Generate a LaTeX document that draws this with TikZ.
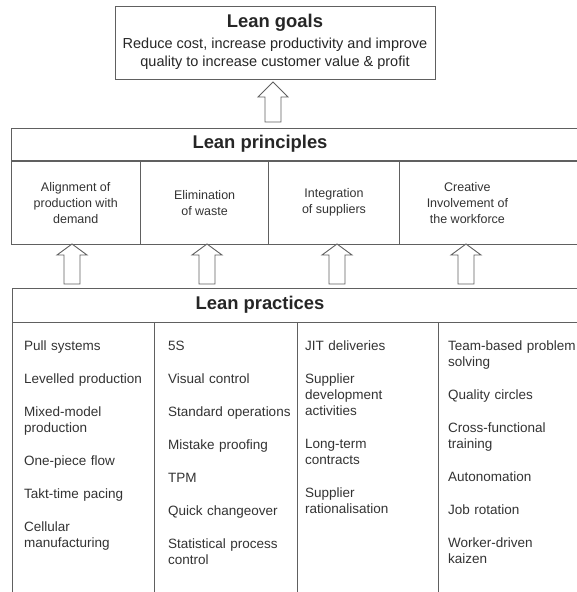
\documentclass[tikz,border=0pt]{standalone}
\usepackage{fontspec}
\setmainfont{Liberation Sans}
\usetikzlibrary{shapes,arrows,positioning,calc}

\begin{document}
\begin{tikzpicture}[
    x=1pt, y=-1pt,
    frame/.style = {draw=gray!75!black, line width=0.9pt},
    box/.style = {rectangle, frame, inner sep=0pt},
    heading/.style = {font=\fontsize{18.4}{22}\selectfont\bfseries, text=black!85},
    goaltext/.style = {font=\fontsize{14.5}{18}\selectfont, align=center, text=black!85},
    principle/.style = {rectangle, inner sep=0pt, minimum height=83pt, font=\fontsize{12.5}{16}\selectfont, align=center, text=black!80},
    practice/.style = {font=\fontsize{13.5}{16}\selectfont, align=left, text width=160pt, anchor=north west, inner sep=0pt, text=black!80},
    pics/blockup/.style args = {#1/#2}{code={
        \draw[frame, fill=white, line join=miter] (-8,0) -- (-8,-#1+#2) -- (-15,-#1+#2) -- (0,-#1)
            -- (15,-#1+#2) -- (8,-#1+#2) -- (8,0) -- cycle;
    }}
]
    \useasboundingbox (0,0) rectangle (576,592);

    % Lean goals
    \node[box, minimum width=320pt, minimum height=73pt] (goals) at (275,42.5) {};
    \node[heading] (goalstitle) at (275,23) {Lean goals};
    \node[goaltext] (goalsbody) at (275,54) {Reduce cost, increase productivity and improve\\quality to increase customer value \& profit};

    % Arrow goals <- principles
    \pic at (273,122) {blockup={40/15}};

    % Lean principles
    \node[box, anchor=north west, minimum width=600pt, minimum height=32pt] (princhead) at (11,128) {};
    \node[box, anchor=north west, minimum width=600pt, minimum height=83pt] (princbody) at (princhead.south west) {};
    \node[heading] (princtitle) at (260,144) {Lean principles};

    \node[principle, anchor=north west, minimum width=129pt] (prin1) at (princbody.north west) {Alignment of\\production with\\demand};
    \node[principle, right=0pt of prin1, minimum width=128pt] (prin2) {Elimination\\of waste};
    \node[principle, right=0pt of prin2, minimum width=130pt] (prin3) {Integration\\of suppliers};
    \node[principle, right=0pt of prin3, minimum width=136pt] (prin4) {Creative\\Involvement of\\the workforce};

    \draw[frame] (prin1.north east) -- (prin1.south east);
    \draw[frame] (prin2.north east) -- (prin2.south east);
    \draw[frame] (prin3.north east) -- (prin3.south east);

    % Arrows principles <- practices
    \pic at (72,284) {blockup={40/11}};
    \pic at (207,284) {blockup={40/11}};
    \pic at (337,284) {blockup={40/11}};
    \pic at (466,284) {blockup={40/11}};

    % Lean practices
    \node[box, anchor=north west, minimum width=600pt, minimum height=34pt] (prachead) at (12,288) {};
    \node[heading] (practitle) at (260,305) {Lean practices};
    \coordinate (div1) at (154,322);
    \coordinate (div2) at (297,322);
    \coordinate (div3) at (438,322);
    \draw[frame] (prachead.south west) -- (12,600);
    \draw[frame] (div1) -- (154,600);
    \draw[frame] (div2) -- (297,600);
    \draw[frame] (div3) -- (438,600);

    \node[practice] (prac1) at (24,341) {Pull systems\\[17pt]Levelled production\\[17pt]Mixed-model\\production\\[17pt]One-piece flow\\[17pt]Takt-time pacing\\[17pt]Cellular\\manufacturing};
    \node[practice] (prac2) at (168,341) {5S\\[17pt]Visual control\\[17pt]Standard operations\\[17pt]Mistake proofing\\[17pt]TPM\\[17pt]Quick changeover\\[17pt]Statistical process\\control};
    \node[practice] (prac3) at (305,341) {JIT deliveries\\[17pt]Supplier\\development\\activities\\[17pt]Long-term\\contracts\\[17pt]Supplier\\rationalisation};
    \node[practice] (prac4) at (448,341) {Team-based problem\\solving\\[17pt]Quality circles\\[17pt]Cross-functional\\training\\[17pt]Autonomation\\[17pt]Job rotation\\[17pt]Worker-driven\\kaizen};

\end{tikzpicture}
\end{document}
